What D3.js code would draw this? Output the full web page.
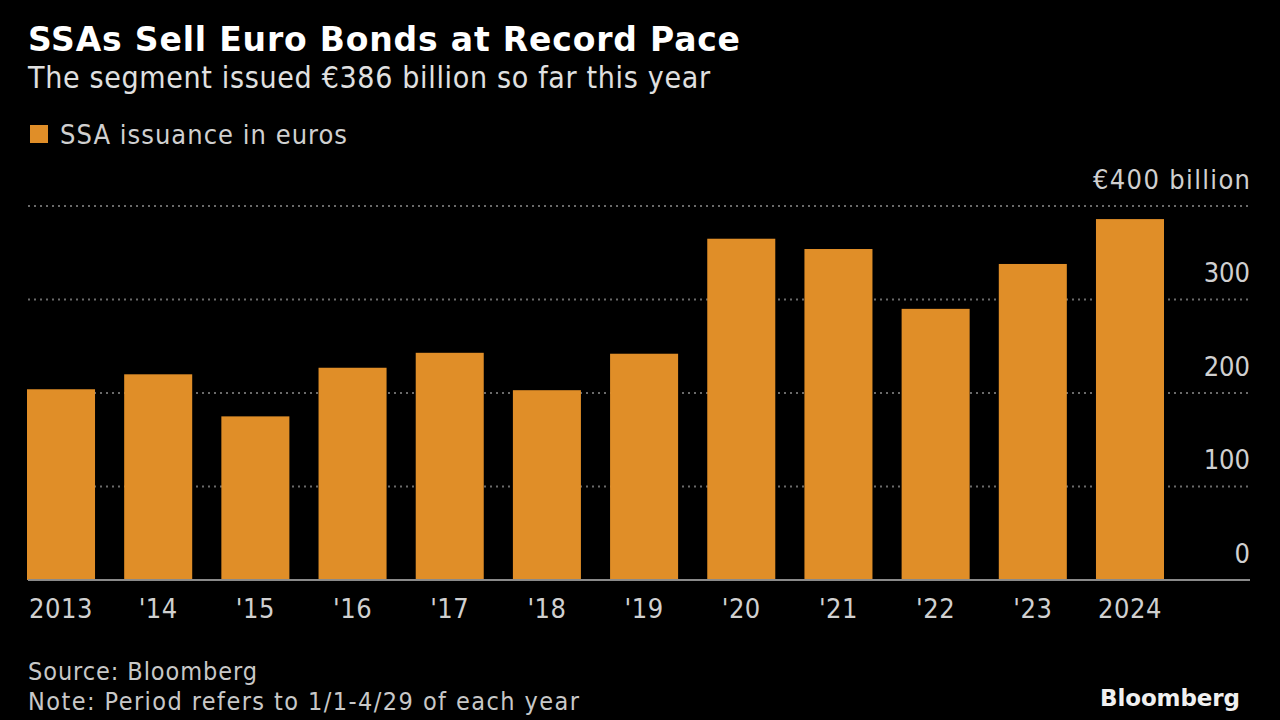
<!DOCTYPE html>
<html><head><meta charset="utf-8">
<script src="https://cdn.jsdelivr.net/npm/d3@7"></script>
<style>html,body{margin:0;padding:0;background:#000;}svg{display:block;}</style>
</head><body>
<svg id="c" width="1280" height="720"></svg>
<script>
const categories = ["2013","'14","'15","'16","'17","'18","'19","'20","'21","'22","'23","2024"];
const values = [204, 220, 175, 227, 243, 203, 242, 365, 354, 290, 338, 386];
const yTicks = [0, 100, 200, 300, 400];
const yTickLabels = ["0","100","200","300","€400 billion"];

const svg = d3.select("#c");
const F = "'DejaVu Sans Condensed', 'DejaVu Sans', sans-serif";
const FB = "'DejaVu Sans', sans-serif";
svg.append("rect").attr("width",1280).attr("height",720).attr("fill","#000");

const x = d3.scaleBand().domain(categories).range([27, 1164]).paddingInner(0.3).paddingOuter(0);
const y = d3.scaleLinear().domain([0, 400]).range([580, 206]);

// gridlines
svg.append("g").selectAll("line").data(yTicks.filter(d=>d>0)).join("line")
  .attr("x1",28).attr("x2",1248).attr("y1",d=>y(d)).attr("y2",d=>y(d))
  .attr("stroke","#6a6a6a").attr("stroke-width",2).attr("stroke-dasharray","2,4");

// bars
svg.append("g").selectAll("rect").data(values).join("rect")
  .attr("x",(d,i)=>x(categories[i])).attr("width",x.bandwidth())
  .attr("y",d=>y(d)).attr("height",d=>y(0)-y(d)).attr("fill","#e08e28");

// baseline
svg.append("line").attr("x1",28).attr("x2",1250).attr("y1",y(0)).attr("y2",y(0))
  .attr("stroke","#8a8a8a").attr("stroke-width",2);

// y labels
const yAxis = d3.axisRight(y).tickValues(yTicks).tickSize(0).tickFormat((d,i)=>yTickLabels[i]);
const ya = svg.append("g").attr("transform","translate(1250,0)").call(yAxis);
ya.select(".domain").remove();
ya.selectAll("text").attr("x",0).attr("dy",0).attr("transform","translate(0,-18)")
  .attr("text-anchor","end").attr("fill","#d0d0d0").attr("font-family",F).attr("font-size",27)
  .each(function(d){ if(d===400){ d3.select(this).attr("textLength",157).attr("lengthAdjust","spacing"); } });

// x labels
const xAxis = d3.axisBottom(x).tickSize(0);
const xa = svg.append("g").attr("transform","translate(0,580)").call(xAxis);
xa.select(".domain").remove();
xa.selectAll("text").attr("y",38).attr("dy",0).attr("fill","#d0d0d0").attr("font-family",F).attr("font-size",27)
  .attr("letter-spacing",0.5);

// titles
svg.append("text").attr("x",28).attr("y",51).text("SSAs Sell Euro Bonds at Record Pace")
  .attr("fill","#fff").attr("font-family",FB).attr("font-weight",700).attr("font-size",33)
  .attr("textLength",712).attr("lengthAdjust","spacing");
svg.append("text").attr("x",28).attr("y",88).text("The segment issued €386 billion so far this year")
  .attr("fill","#e0e0e0").attr("font-family",F).attr("font-size",30)
  .attr("textLength",682).attr("lengthAdjust","spacing");

// legend
svg.append("rect").attr("x",30).attr("y",125).attr("width",18).attr("height",18).attr("fill","#e08e28");
svg.append("text").attr("x",60).attr("y",144).text("SSA issuance in euros")
  .attr("fill","#d0d0d0").attr("font-family",F).attr("font-size",27)
  .attr("textLength",287).attr("lengthAdjust","spacing");

// footer
svg.append("text").attr("x",28).attr("y",680).text("Source: Bloomberg")
  .attr("fill","#c8c8c8").attr("font-family",F).attr("font-size",25)
  .attr("textLength",229).attr("lengthAdjust","spacing");
svg.append("text").attr("x",28).attr("y",710).text("Note: Period refers to 1/1-4/29 of each year")
  .attr("fill","#c8c8c8").attr("font-family",F).attr("font-size",25)
  .attr("textLength",551).attr("lengthAdjust","spacing");
svg.append("text").attr("x",1100).attr("y",706).text("Bloomberg")
  .attr("fill","#f0f0f0").attr("font-family",FB).attr("font-weight",700).attr("font-size",23)
  .attr("textLength",140).attr("lengthAdjust","spacing");
</script>
</body></html>
